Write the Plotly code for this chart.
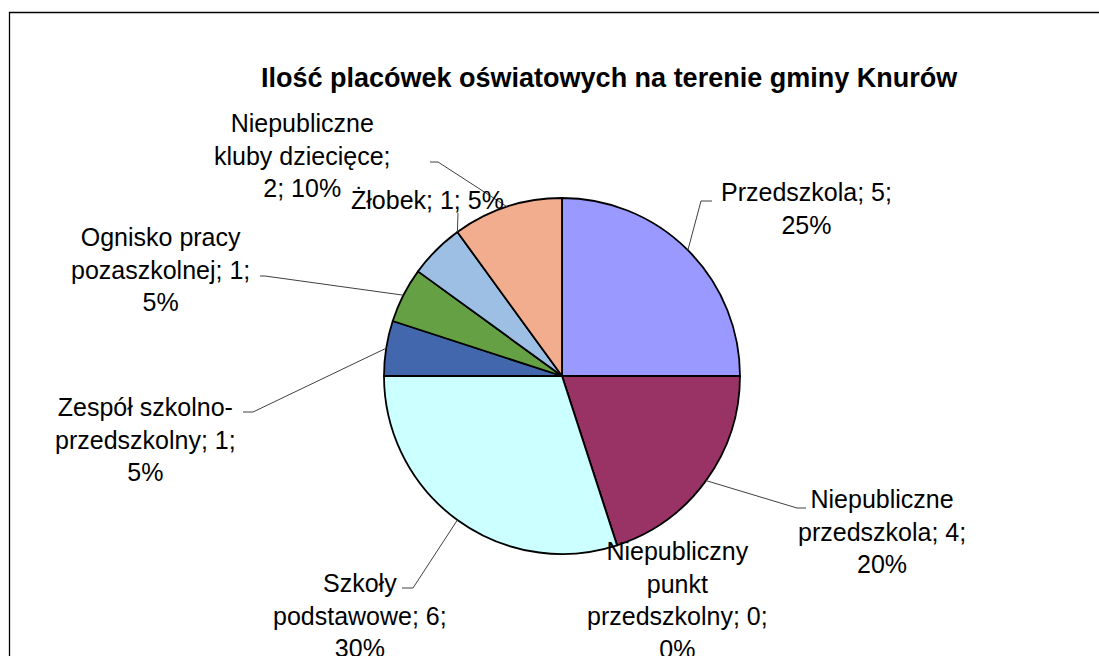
import math
import plotly.graph_objects as go

# ---- data ----
categories = [
    "Przedszkola",
    "Niepubliczne przedszkola",
    "Niepubliczny punkt przedszkolny",
    "Szkoły podstawowe",
    "Zespół szkolno-przedszkolny",
    "Ognisko pracy pozaszkolnej",
    "Żłobek",
    "Niepubliczne kluby dziecięce",
]
values = [5, 4, 0, 6, 1, 1, 1, 2]
label_texts = [
    "Przedszkola; 5;<br>25%",
    "Niepubliczne<br>przedszkola; 4;<br>20%",
    "Niepubliczny<br>punkt<br>przedszkolny; 0;<br>0%",
    "Szkoły<br>podstawowe; 6;<br>30%",
    "Zespół szkolno-<br>przedszkolny; 1;<br>5%",
    "Ognisko pracy<br>pozaszkolnej; 1;<br>5%",
    "Żłobek; 1; 5%",
    "Niepubliczne<br>kluby dziecięce;<br>2; 10%",
]
title_text = "Ilość placówek oświatowych na terenie gminy Knurów"

# ---- style / layout ----
W, H = 1099, 656
colors = ["#9999FF", "#993366", "#FFFFC0", "#CCFFFF", "#4267AC", "#66A044", "#9DBFE3", "#F2AC8E"]
CX, CY, R = 562, 376, 178
FONT = "Liberation Sans, Arial, sans-serif"
LABEL_SIZE = 25

# label centre positions (px) and leader-line label-side points (px)
label_pos = [(806, 208), (882, 531), (677, 600), (360, 615), (145, 439), (160, 269), (427, 200), (302, 155)]
leader_pts = [
    [(712, 201), (701, 201)],
    [(806, 508), (797, 508)],
    None,
    [(402, 588), (413, 588)],
    [(243, 412), (253, 412)],
    [(260, 276), (265, 276)],
    [(458, 213)],
    [(430, 162), (438, 162)],
]
anchor_frac = [0.5, 0.5, 0.5, 0.5, 0.5, 0.5, 1.0, 0.5]

fig = go.Figure()
fig.add_trace(go.Pie(
    labels=categories,
    values=values,
    sort=False,
    direction="clockwise",
    rotation=0,
    marker=dict(colors=colors, line=dict(color="black", width=1.8)),
    textinfo="none",
    hoverinfo="label+value+percent",
    showlegend=False,
    domain=dict(x=[(CX - R) / W, (CX + R) / W], y=[1 - (CY + R) / H, 1 - (CY - R) / H]),
))

total = sum(values)
shapes = []
annotations = []
cum = 0
for i, v in enumerate(values):
    a0 = cum / total * 360
    a1 = (cum + v) / total * 360
    cum += v
    ang = math.radians(a0 + (a1 - a0) * anchor_frac[i])
    ax = CX + R * math.sin(ang)
    ay = CY - R * math.cos(ang)
    pts = leader_pts[i]
    if pts:
        allp = pts + [(ax, ay)]
        path = "M " + " L ".join(f"{x:.1f},{y:.1f}" for x, y in allp)
        shapes.append(dict(type="path", path=path, xref="x", yref="y",
                           line=dict(color="#404040", width=1)))
    lx, ly = label_pos[i]
    annotations.append(dict(x=lx, y=ly, xref="x", yref="y", text=label_texts[i],
                            showarrow=False, xanchor="center", yanchor="middle",
                            align="center", font=dict(family=FONT, size=LABEL_SIZE, color="black")))

annotations.append(dict(x=609, y=78, xref="x", yref="y", text=f"<b>{title_text}</b>",
                        showarrow=False, xanchor="center", yanchor="middle",
                        font=dict(family=FONT, size=27, color="black")))

# outer chart border
shapes.append(dict(type="rect", x0=9.5, y0=12.5, x1=W + 20, y1=H + 20, xref="x", yref="y",
                   line=dict(color="black", width=1.3), fillcolor="rgba(0,0,0,0)", layer="below"))

fig.update_layout(
    width=W, height=H,
    margin=dict(l=0, r=0, t=0, b=0),
    paper_bgcolor="white", plot_bgcolor="rgba(0,0,0,0)",
    xaxis=dict(range=[0, W], visible=False, fixedrange=True),
    yaxis=dict(range=[H, 0], visible=False, fixedrange=True),
    shapes=shapes,
    annotations=annotations,
)
fig.write_html(
    "out.html",
    config={"displayModeBar": False},
    post_script="document.body.style.margin='0';document.body.style.overflow='hidden';",
)
